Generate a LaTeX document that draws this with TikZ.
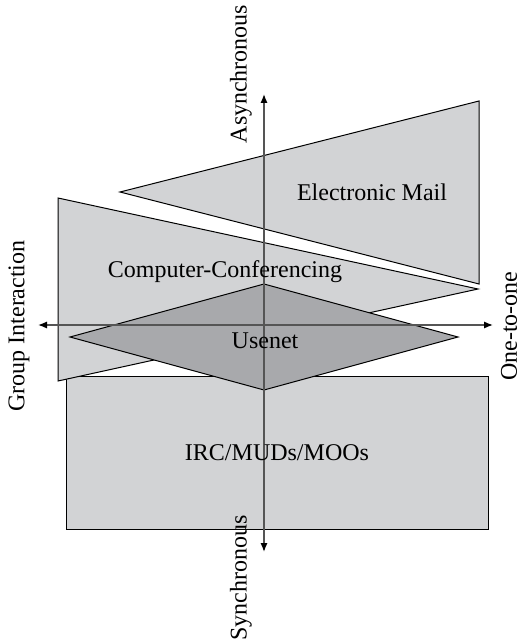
\documentclass[tikz,border=0pt]{standalone}
\usepackage{fontspec}
\setmainfont{Liberation Serif}
\usetikzlibrary{arrows.meta}

\definecolor{panelgray}{RGB}{210,211,213}
\definecolor{usenetgray}{RGB}{168,169,172}
\definecolor{axisgray}{RGB}{85,85,85}

\tikzset{
  panel/.style={fill=panelgray, draw=black, line width=0.5pt},
  usenet/.style={fill=usenetgray, draw=black, line width=0.5pt},
  axis/.style={draw=axisgray, line width=0.7pt, {Latex[length=4.5pt,width=3.6pt,black]}-{Latex[length=4.5pt,width=3.6pt,black]}},
  label/.style={font=\fontsize{12}{14}\selectfont, inner sep=0pt}
}

\begin{document}
\begin{tikzpicture}[x=0.5pt,y=-0.5pt]
  \useasboundingbox (0,0) rectangle (520,642);

  % IRC/MUDs/MOOs box
  \draw[panel] (66,376) rectangle (488,529);

  % Computer-Conferencing wedge
  \draw[panel] (58,198) -- (478,289) -- (58,381) -- cycle;

  % Electronic Mail wedge
  \draw[panel] (120,192) -- (479,101) -- (479,284) -- cycle;

  % Usenet diamond
  \draw[usenet] (264,284) -- (458,337) -- (264,390) -- (70,337) -- cycle;

  % Axes
  \coordinate (async) at (264,94);
  \coordinate (sync) at (264,552);
  \coordinate (group) at (38,325);
  \coordinate (single) at (493,325);
  \draw[axis] (sync) -- (async);
  \draw[axis] (group) -- (single);

  % Axis labels
  \node[label, rotate=90] (asynclbl) at (241,74) {Asynchronous};
  \node[label, rotate=90] (synclbl) at (241,578) {Synchronous};
  \node[label, rotate=90] (grouplbl) at (19,326) {Group Interaction};
  \node[label, rotate=90] (singlelbl) at (509,326) {One-to-one};

  % Region labels
  \node[label] (mail) at (372,192) {Electronic Mail};
  \node[label] (conf) at (225,272) {Computer-Conferencing};
  \node[label] (news) at (265,341) {Usenet};
  \node[label] (irc) at (277,453) {IRC/MUDs/MOOs};
\end{tikzpicture}
\end{document}
